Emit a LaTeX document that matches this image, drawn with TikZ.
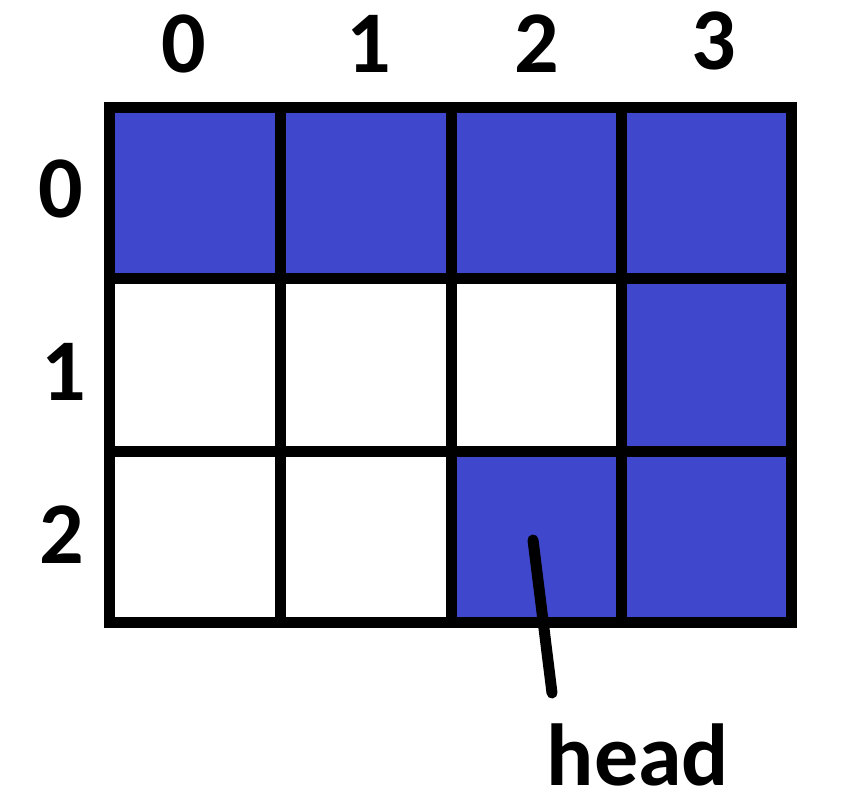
\documentclass[tikz,border=0pt]{standalone}
\usepackage{fontspec}
\setmainfont{Carlito}
\definecolor{cellblue}{RGB}{63,72,204}
\begin{document}
\begin{tikzpicture}[x=1pt,y=-1pt,
  lbl/.style={anchor=base,inner sep=0pt,font=\fontsize{88}{100}\selectfont\bfseries},
  cellbox/.style={rectangle,inner sep=0pt,minimum width=171pt,minimum height=172pt},
  filled/.style={cellbox,fill=cellblue},
  empty/.style={cellbox,fill=white},
  gridline/.style={line width=11pt,line cap=rect},
  pointer/.style={line width=11pt,line cap=round}]
\useasboundingbox[fill=white] (0,0) rectangle (856,808);
% cells
\node[filled] (c00) at (195,192.75) {};
\node[filled] (c01) at (366,192.75) {};
\node[filled] (c02) at (536.5,192.75) {};
\node[filled] (c03) at (706.5,192.75) {};
\node[empty]  (c10) at (195,364.5) {};
\node[empty]  (c11) at (366,364.5) {};
\node[empty]  (c12) at (536.5,364.5) {};
\node[filled] (c13) at (706.5,364.5) {};
\node[empty]  (c20) at (195,536.75) {};
\node[empty]  (c21) at (366,536.75) {};
\node[filled] (c22) at (536.5,536.75) {};
\node[filled] (c23) at (706.5,536.75) {};
% grid
\draw[gridline] (109.5,107.5) rectangle (791.5,622.5);
\draw[gridline] (280.5,107.5) -- (280.5,622.5);
\draw[gridline] (451.5,107.5) -- (451.5,622.5);
\draw[gridline] (621.5,107.5) -- (621.5,622.5);
\draw[gridline] (109.5,278) -- (791.5,278);
\draw[gridline] (109.5,451) -- (791.5,451);
% labels
\node[lbl] (k0) at (184,72) {0};
\node[lbl] (k1) at (369,72) {1};
\node[lbl] (k2) at (537,72) {2};
\node[lbl] (k3) at (714,70) {3};
\node[lbl] (r0) at (61,217) {0};
\node[lbl] (r1) at (64,400) {1};
\node[lbl] (r2) at (62,563) {2};
\node[lbl] (head) at (638,785) {head};
% pointer
\coordinate (ptr) at (533,540);
\coordinate (ptrend) at (552,693);
\draw[pointer] (ptr) -- (ptrend);
\end{tikzpicture}
\end{document}
